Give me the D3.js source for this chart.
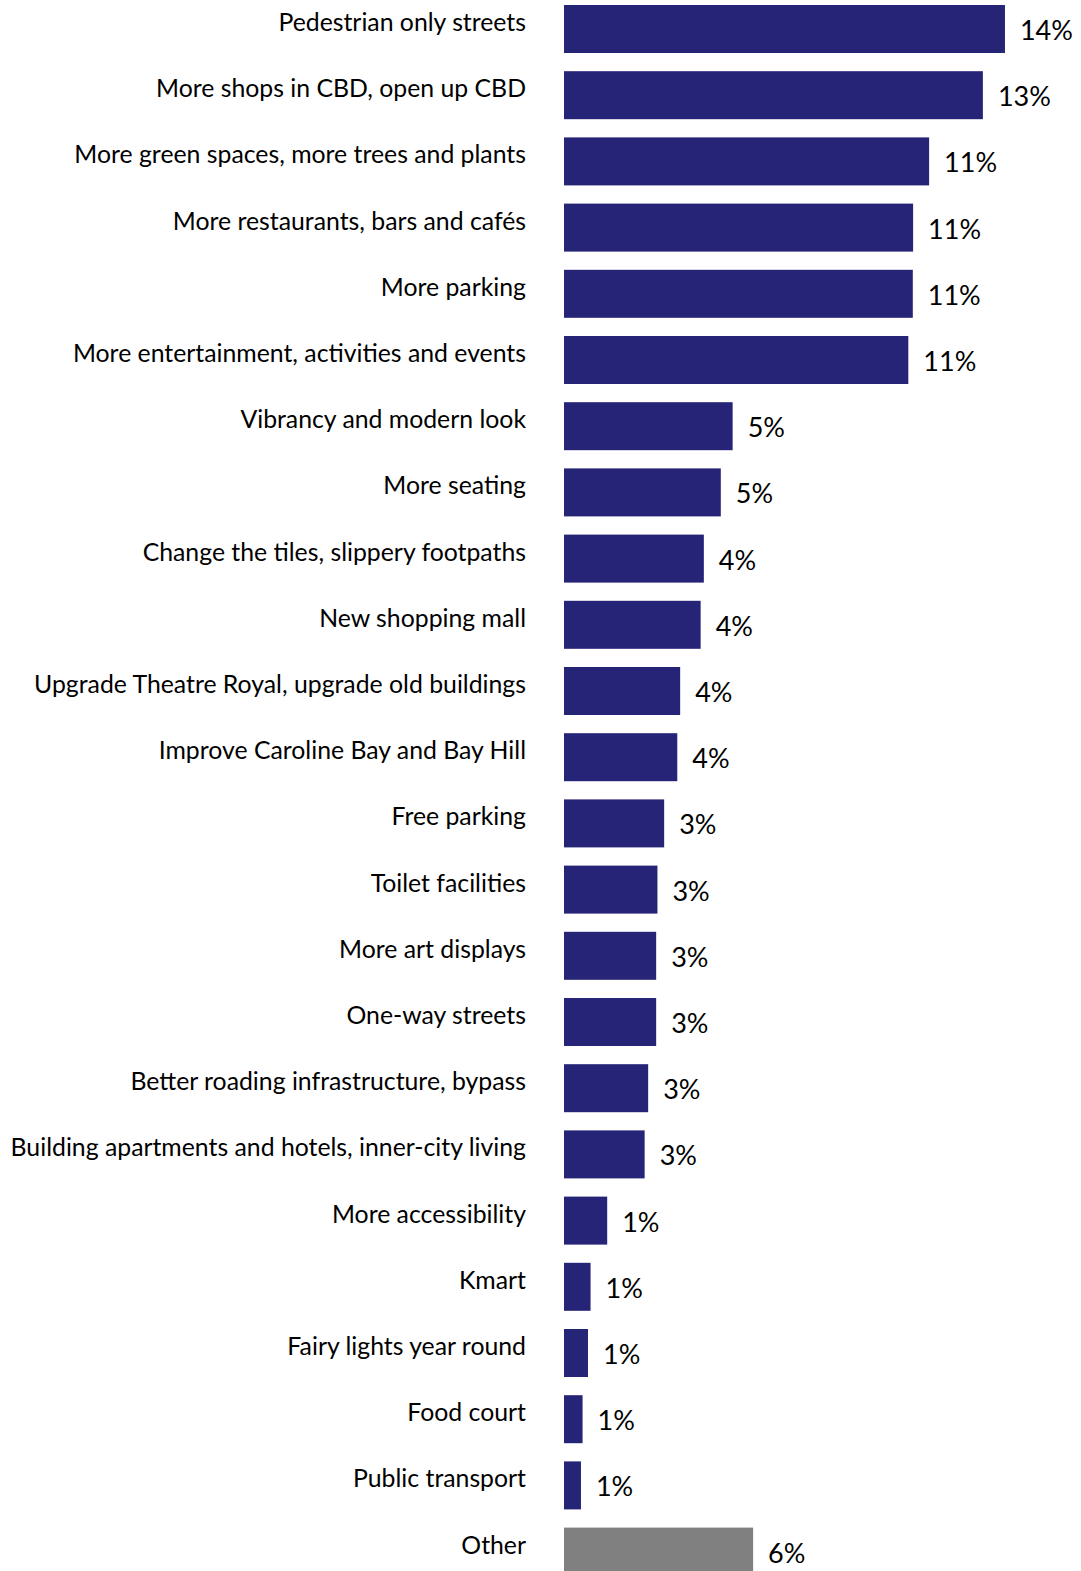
<!DOCTYPE html>
<html>
<head>
<meta charset="utf-8">
<script src="https://cdn.jsdelivr.net/npm/d3@7"></script>
<style>
  html, body { margin: 0; padding: 0; background: #ffffff; }
  svg { display: block; }
  .cat { font-family: Lato, "Open Sans", sans-serif; font-size: 24.8px; fill: #000; }
  .val { font-family: Lato, "Open Sans", sans-serif; font-size: 27px; fill: #000; }
</style>
</head>
<body>
<svg id="chart"></svg>
<script>
// Suggested improvements for the town centre (% of mentions)
const categories = [
  "Pedestrian only streets",
  "More shops in CBD, open up CBD",
  "More green spaces, more trees and plants",
  "More restaurants, bars and cafés",
  "More parking",
  "More entertainment, activities and events",
  "Vibrancy and modern look",
  "More seating",
  "Change the tiles, slippery footpaths",
  "New shopping mall",
  "Upgrade Theatre Royal, upgrade old buildings",
  "Improve Caroline Bay and Bay Hill",
  "Free parking",
  "Toilet facilities",
  "More art displays",
  "One-way streets",
  "Better roading infrastructure, bypass",
  "Building apartments and hotels, inner-city living",
  "More accessibility",
  "Kmart",
  "Fairy lights year round",
  "Food court",
  "Public transport",
  "Other"
];

const values = [
  13.78, 13.09, 11.41, 10.91, 10.90, 10.76,
  5.27, 4.90, 4.37, 4.27, 3.63, 3.54,
  3.13, 2.92, 2.88, 2.88, 2.63, 2.52,
  1.35, 0.83, 0.75, 0.58, 0.53, 5.91
];

const residualCategory = "Other";

const W = 1081, H = 1571;
const barColor = "#262476";
const otherColor = "#808080";

const data = categories.map((c, i) => ({ category: c, value: values[i] }));

const svg = d3.select("#chart").attr("width", W).attr("height", H);

const x = d3.scaleLinear().domain([0, 16]).range([564, 1076]);

const step = 66.2, inner = (step - 48) / step;
const y = d3.scaleBand()
  .domain(categories)
  .range([5 - step * inner / 2, 5 - step * inner / 2 + step * categories.length])
  .paddingInner(inner)
  .paddingOuter(inner / 2);

const fmt = v => d3.format(".0%")(v / 100);

svg.append("g").selectAll("rect")
  .data(data)
  .join("rect")
  .attr("x", x(0))
  .attr("y", d => y(d.category))
  .attr("width", d => x(d.value) - x(0))
  .attr("height", y.bandwidth())
  .attr("fill", d => d.category === residualCategory ? otherColor : barColor);

svg.append("g").selectAll("text")
  .data(data)
  .join("text")
  .attr("class", "cat")
  .attr("x", 526)
  .attr("y", d => y(d.category) + y.bandwidth() / 2 + 2)
  .attr("text-anchor", "end")
  .text(d => d.category);

svg.append("g").selectAll("text")
  .data(data)
  .join("text")
  .attr("class", "val")
  .attr("x", d => x(d.value) + 15)
  .attr("y", d => y(d.category) + y.bandwidth() / 2 + 11)
  .text(d => fmt(d.value));
</script>
</body>
</html>
